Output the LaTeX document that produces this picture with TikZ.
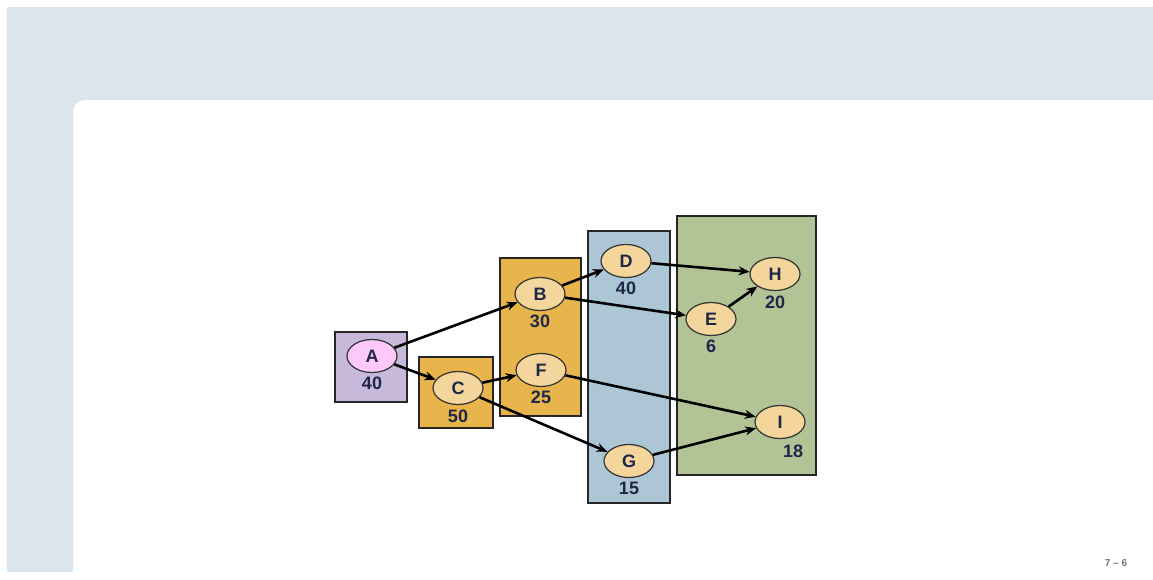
\documentclass[tikz,border=0pt]{standalone}
\usepackage{fontspec}
\setmainfont{Liberation Sans}
\usetikzlibrary{arrows.meta,shapes.geometric}
\definecolor{bgblue}{HTML}{DCE6EF}
\definecolor{boxpurple}{HTML}{C6B9DA}
\definecolor{boxorange}{HTML}{E8B44C}
\definecolor{boxblue}{HTML}{ADC6D6}
\definecolor{boxgreen}{HTML}{B2C395}
\definecolor{nodetan}{HTML}{F4D69C}
\definecolor{nodepink}{HTML}{FDC8FA}
\definecolor{txt}{HTML}{1E2748}
\tikzset{
  grp/.style={draw=black!85, line width=1.4pt},
  task/.style={ellipse, draw=black!80, line width=1.2pt, fill=nodetan, minimum width=50pt, minimum height=33pt, inner sep=0pt, font=\fontsize{18}{21}\selectfont\bfseries, text=txt},
  num/.style={font=\fontsize{18}{21}\selectfont\bfseries, text=txt, inner sep=0pt},
  arr/.style={-{Stealth[length=11pt,width=9pt]}, line width=2.6pt, black},
}
\begin{document}
\begin{tikzpicture}[x=1pt,y=-1pt]
\useasboundingbox (0,0) rectangle (1153,579);
% background
\fill[bgblue] (7,7) rectangle (1153,572);
\fill[white, rounded corners=12pt] (73,600) -- (73,100) -- (1180,100) -- (1180,600) -- cycle;
% group boxes
\draw[grp, fill=boxpurple] (335,332) rectangle (407,402);
\draw[grp, fill=boxorange] (419,357) rectangle (493,428);
\draw[grp, fill=boxorange] (500,258) rectangle (581,416);
\draw[grp, fill=boxblue] (588,231) rectangle (670,503);
\draw[grp, fill=boxgreen] (677,216) rectangle (816,475);
% nodes
\node[task, fill=nodepink] (A) at (372,356) {A};
\node[num] (nA) at (372,383) {40};
\node[task] (C) at (458,388) {C};
\node[num] (nC) at (458,416) {50};
\node[task] (B) at (540,294) {B};
\node[num] (nB) at (540,321) {30};
\node[task] (F) at (541,370) {F};
\node[num] (nF) at (541,397) {25};
\node[task] (D) at (626,261) {D};
\node[num] (nD) at (626,288) {40};
\node[task] (G) at (629,461) {G};
\node[num] (nG) at (629,488) {15};
\node[task] (H) at (775,274) {H};
\node[num] (nH) at (775,302) {20};
\node[task] (E) at (711,319) {E};
\node[num] (nE) at (711,346) {6};
\node[task] (I) at (780,422) {I};
\node[num] (nI) at (793,451) {18};
% edges
\draw[arr] (A) -- (B);
\draw[arr] (A) -- (C);
\draw[arr] (C) -- (F);
\draw[arr] (C) -- (G);
\draw[arr] (B) -- (D);
\draw[arr] (B) -- (E);
\draw[arr] (D) -- (H);
\draw[arr] (E) -- (H);
\draw[arr] (F) -- (I);
\draw[arr] (G) -- (I);
% page number
\node[text=black!55, font=\fontsize{10}{12}\selectfont\bfseries] (pg) at (1116,563) {7 -- 6};
\end{tikzpicture}
\end{document}
